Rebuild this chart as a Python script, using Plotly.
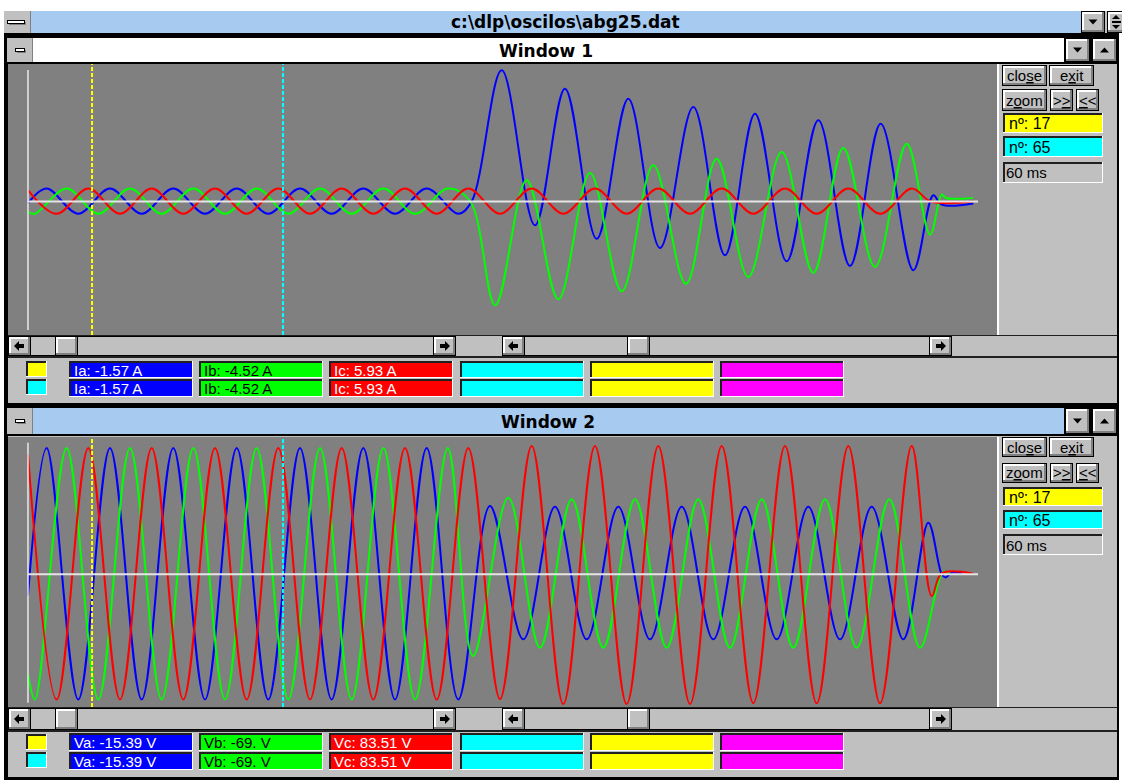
import plotly.graph_objects as go

# ------------------------------------------------------------------
# Data.
# x = sample number (nº); y = value at each turning point (peak/trough)
# plus the few crossings / flat parts of every trace.
# Window 1: phase currents (A)   Window 2: phase voltages (V)
# ------------------------------------------------------------------
ia_n = [0.90, 5.60, 13.55, 21.51, 29.48, 37.42, 45.39, 53.36, 61.30, 69.26, 77.20, 85.17, 93.14, 101.10, 109.05,
        112.41, 119.96, 128.32, 135.86, 143.83, 151.77, 159.74, 168.11, 176.07, 183.61, 191.58, 199.52, 207.49,
        215.20, 223.40, 228.42, 230.53, 238.48]
ia_v = [-0.9, 6.2, -5.9, 6.2, -5.9, 6.2, -5.9, 6.2, -5.9, 6.2, -5.9, 6.2, -5.9, 6.2, -5.9,
        0.0, 63.0, -11.4, 54.1, -17.9, 49.3, -22.3, 45.4, -25.8, 42.1, -28.7, 39.0, -31.0,
        37.3, -33.0, 3.0, -1.5, -1.0]

ib_n = [0.90, 2.66, 10.62, 18.58, 26.54, 34.50, 42.46, 50.42, 58.38, 66.34, 74.30, 82.26, 90.22, 98.18, 106.40,
        112.05, 118.33, 126.24, 134.18, 142.15, 150.11, 158.06, 166.27, 173.99, 181.93, 190.32, 198.27, 205.81,
        213.77, 221.74, 227.60, 230.53, 231.61, 238.40]
ib_v = [-4.9, -5.9, 6.2, -5.9, 6.2, -5.9, 6.2, -5.9, 6.2, -5.9, 6.2, -5.9, 6.2, -5.9, 6.2,
        0.0, -49.8, 10.2, -46.9, 13.7, -43.1, 17.4, -39.5, 20.5, -36.2, 23.8, -34.2, 25.7,
        -31.4, 27.7, -15.9, 3.3, 1.7, 1.7]

ic_n = [0.90, 8.12, 16.06, 24.03, 31.99, 39.93, 47.90, 55.87, 63.81, 71.78, 79.74, 87.68, 95.65, 103.62, 111.56,
        119.53, 127.49, 135.44, 143.40, 151.37, 159.31, 167.28, 175.24, 183.19, 191.15, 199.12, 207.06, 215.03,
        222.99, 227.82, 238.40]
ic_v = [5.5, -5.9, 6.2, -5.9, 6.2, -5.9, 6.2, -5.9, 6.2, -5.9, 6.2, -5.9, 6.2, -5.9, 6.2,
        -5.9, 6.2, -5.9, 6.2, -5.9, 6.2, -5.9, 6.2, -5.9, 6.2, -5.9, 6.2, -5.9,
        6.2, 0.0, 0.0]

va_n = [0.90, 5.60, 13.55, 21.51, 29.48, 37.42, 45.39, 53.36, 61.30, 69.26, 77.20, 85.17, 93.14, 101.10, 109.05,
        117.01, 125.38, 133.35, 141.32, 149.26, 157.23, 165.19, 173.13, 181.10, 189.07, 197.01, 204.98, 212.94,
        220.88, 227.17, 230.54, 231.50, 233.00, 235.60]
va_v = [-15.0, 89.5, -88.8, 89.5, -88.8, 89.5, -88.8, 89.5, -88.8, 89.5, -88.8, 89.5, -88.8, 89.5, -88.8,
        48.4, -46.1, 47.9, -46.1, 47.9, -46.1, 47.9, -46.1, 47.9, -46.1, 47.9, -46.1, 47.9,
        -46.1, 36.6, 0.0, -2.2, 1.0, 1.0]

vb_n = [0.90, 2.66, 10.62, 18.58, 26.54, 34.50, 42.46, 50.42, 58.38, 66.34, 74.30, 82.26, 90.22, 98.18, 106.40,
        112.74, 121.61, 129.58, 137.55, 145.49, 153.46, 161.42, 169.36, 177.33, 185.30, 193.24, 201.21, 209.17,
        217.37, 225.08, 230.86, 232.60]
vb_v = [-70.9, -88.8, 89.5, -88.8, 89.5, -88.8, 89.5, -88.8, 89.5, -88.8, 89.5, -88.8, 89.5, -88.8, 89.5,
        -57.9, 54.3, -52.0, 53.2, -52.0, 53.2, -52.0, 53.2, -52.0, 53.2, -52.0, 53.2, -52.0,
        53.2, -52.0, 1.6, 1.0]

vc_n = [0.90, 8.12, 16.06, 24.03, 31.99, 39.93, 47.90, 55.87, 63.81, 71.78, 79.74, 87.68, 95.65, 103.62, 111.56,
        119.53, 127.49, 135.44, 143.40, 151.37, 159.31, 167.28, 175.24, 183.19, 191.15, 199.12, 207.06, 215.03,
        222.99, 228.01, 230.53, 238.40]
vc_v = [85.3, -88.8, 89.5, -88.8, 89.5, -88.8, 89.5, -88.8, 89.5, -88.8, 89.5, -88.8, 89.5, -88.8, 89.5,
        -88.4, 91.0, -92.0, 91.0, -92.0, 91.0, -92.0, 91.0, -91.3, 91.0, -91.5, 91.0, -91.5,
        91.0, -15.4, 0.6, 0.4]

current_names = ["Ia", "Ib", "Ic"]
voltage_names = ["Va", "Vb", "Vc"]
current_readout = ["Ia: -1.57 A", "Ib: -4.52 A", "Ic: 5.93 A"]
voltage_readout = ["Va: -15.39 V", "Vb: -69. V", "Vc: 83.51 V"]
phase_colors = ["#0000FF", "#00FF00", "#FF0000"]
readout_text_colors = ["#FFFFFF", "#000000", "#FFFFFF"]
spare_box_colors = ["#00FFFF", "#FFFF00", "#FF00FF"]
cursor_samples = [17, 65]
cursor_colors = ["#FFFF00", "#00FFFF"]
cursor_delta = "60 ms"
file_title = "c:\\dlp\\oscilos\\abg25.dat"
window_titles = ["Window 1", "Window 2"]

x_range = [-4.12, 244.43]
i_range = [-64.08, 66.0]
v_range = [-94.08, 96.64]

# ------------------------------------------------------------------
W, H = 1122, 783
GRAY, DARK, BLACK, WHITE = "#C0C0C0", "#808080", "#000000", "#FFFFFF"
EDGE = "#202020"
TITLE_BLUE = "#A6CAF0"
UI_FONT = "Liberation Sans, Arial, sans-serif"
TITLE_FONT = "DejaVu Sans, Verdana, sans-serif"

shapes, annotations = [], []


def fx(x):
    return x / W


def fy(y):
    return 1 - y / H


def box(x0, y0, x1, y1, fill):
    shapes.append(dict(type="rect", xref="paper", yref="paper", layer="below",
                       x0=fx(x0), x1=fx(x1), y0=fy(y1), y1=fy(y0),
                       fillcolor=fill, line=dict(width=0)))


def poly(pts, fill):
    path = "M" + "L".join(f"{fx(x):.6f},{fy(y):.6f}" for x, y in pts) + "Z"
    shapes.append(dict(type="path", xref="paper", yref="paper", layer="below",
                       path=path, fillcolor=fill, line=dict(width=0)))


def raised(x0, y0, x1, y1):
    box(x0, y0, x1, y1, BLACK)
    box(x0 + 1, y0 + 1, x1 - 1, y1 - 1, DARK)
    box(x0 + 1, y0 + 1, x1 - 3, y1 - 3, WHITE)
    box(x0 + 3, y0 + 3, x1 - 3, y1 - 3, GRAY)


def sunken(x0, y0, x1, y1, fill):
    box(x0, y0, x1, y1, WHITE)
    box(x0, y0, x1 - 1, y1 - 1, EDGE)
    box(x0 + 2, y0 + 2, x1 - 1, y1 - 1, fill)


def label(x, y, s, size=15, color=BLACK, family=UI_FONT, anchor="left"):
    annotations.append(dict(xref="paper", yref="paper", x=fx(x), y=fy(y), text=s,
                            showarrow=False, xanchor=anchor, yanchor="middle",
                            font=dict(family=family, size=size, color=color)))


def tri(cx, cy, up, w=9, h=5):
    if up:
        poly([(cx - w / 2, cy + h / 2), (cx + w / 2, cy + h / 2), (cx, cy - h / 2)], BLACK)
    else:
        poly([(cx - w / 2, cy - h / 2), (cx + w / 2, cy - h / 2), (cx, cy + h / 2)], BLACK)


def arrow(cx, cy, left):
    s = -1 if left else 1
    poly([(cx + 5 * s, cy), (cx, cy - 5), (cx, cy + 5)], BLACK)
    box(min(cx, cx - 5 * s), cy - 2, max(cx, cx - 5 * s), cy + 2, BLACK)


def scrollbar(x0, x1, y0, y1, thumb):
    box(x0, y0, x1, y1, BLACK)
    box(x0 + 1, y0 + 1, x1 - 1, y1 - 1, GRAY)
    raised(x0, y0, x0 + 23, y1)
    arrow(x0 + 11, (y0 + y1) / 2, True)
    raised(x1 - 23, y0, x1, y1)
    arrow(x1 - 11, (y0 + y1) / 2, False)
    raised(thumb, y0, thumb + 23, y1)


def minimize_icon(x0, y0, x1, y1):
    box(x0 + 2, y0 + 2, x1 + 1, y1 + 1, DARK)
    box(x0, y0, x1, y1, BLACK)
    box(x0 + 1, y0 + 1, x1 - 1, y1 - 1, WHITE)


# ---- application title bar ----
box(4, 11, 30, 33, GRAY)
box(30, 11, 31, 33, DARK)
minimize_icon(7, 20, 25, 24)
box(31, 11, 1081, 33, TITLE_BLUE)
box(1081, 11, 1122, 33, GRAY)
raised(1081, 11, 1105, 33)
tri(1093, 22, False)
raised(1107, 11, 1126, 33)
tri(1116, 17, True, w=8, h=4)
box(1112, 21, 1121, 23, BLACK)
tri(1116, 27, False, w=8, h=4)
label(565, 22, f"<b>{file_title}</b>", size=17, family=TITLE_FONT, anchor="center")

# ---- frame ----
box(4, 33, 1119, 780, BLACK)

win_geo = [
    dict(title=(38, 62), fill=WHITE, tx=546, client=(64, 403), plot=(64, 335), scroll=(336, 356),
         rows=((361, 378), (379, 397)), squares=((361, 377), (379, 395)),
         btn1=(65, 86), btn2=(89, 111), ind=((113, 133), (136, 157), (162, 183))),
    dict(title=(408, 434), fill=TITLE_BLUE, tx=548, client=(436, 777), plot=(437, 707), scroll=(708, 730),
         rows=((733, 751), (752, 770)), squares=((734, 750), (752, 768)),
         btn1=(437, 457), btn2=(463, 483), ind=((487, 506), (510, 529), (534, 555))),
]
readouts = [current_readout, voltage_readout]
legend_x = [69, 199, 329, 460, 590, 720]

for k, g in enumerate(win_geo):
    t0, t1 = g["title"]
    tm = (t0 + t1) / 2
    box(7, t0, 32, t1, GRAY)
    box(32, t0, 33, t1, DARK)
    minimize_icon(15, tm - 2, 25, tm + 2)
    box(33, t0, 1064, t1, g["fill"])
    raised(1065, t0, 1090, t1)
    tri(1077.5, tm, False)
    raised(1092, t0, 1117, t1)
    tri(1104.5, tm, True)
    label(g["tx"], tm + 0.5, f"<b>{window_titles[k]}</b>", size=17, family=TITLE_FONT, anchor="center")

    c0, c1 = g["client"]
    box(8, c0, 1117, c1, GRAY)
    p0, p1 = g["plot"]
    box(8, p0, 997, p1, DARK)
    box(997, p0, 999, p1, WHITE)

    s0, s1 = g["scroll"]
    box(8, s0 - 1, 1117, s0, EDGE)
    box(8, s1, 1117, s1 + 2, EDGE)
    scrollbar(8, 456, s0, s1, 55)
    scrollbar(502, 952, s0, s1, 627)

    for r, ((r0, r1), (q0, q1)) in enumerate(zip(g["rows"], g["squares"])):
        sunken(26, q0, 47, q1, cursor_colors[r])
        for j, lx in enumerate(legend_x):
            if j < 3:
                sunken(lx, r0, lx + 124, r1, phase_colors[j])
                label(lx + 3, (r0 + r1) / 2 + 0.5, readouts[k][j], color=readout_text_colors[j])
            else:
                sunken(lx, r0, lx + 124, r1, spare_box_colors[j - 3])

    b0, b1 = g["btn1"]
    bm = (b0 + b1) / 2
    raised(1002, b0, 1047, b1)
    label(1024.5, bm, "clo<u>s</u>e", anchor="center")
    raised(1049, b0, 1094, b1)
    label(1071.5, bm, "e<u>x</u>it", anchor="center")
    b0, b1 = g["btn2"]
    bm = (b0 + b1) / 2
    raised(1002, b0, 1047, b1)
    label(1024.5, bm, "z<u>o</u>om", anchor="center")
    raised(1050, b0, 1073, b1)
    label(1061.5, bm, "&gt;<u>&gt;</u>", anchor="center")
    raised(1076, b0, 1099, b1)
    label(1087.5, bm, "<u>&lt;</u>&lt;", anchor="center")
    for i in range(2):
        i0, i1 = g["ind"][i]
        sunken(1003, i0, 1103, i1, cursor_colors[i])
        label(1007, (i0 + i1) / 2 + 0.5, f"nº: {cursor_samples[i]}", size=16)
    i0, i1 = g["ind"][2]
    sunken(1003, i0, 1103, i1, GRAY)
    label(1004, (i0 + i1) / 2 + 0.5, cursor_delta)

# ---- plot-area decorations in axis units ----
for xa, ya, rng, vtop, vbot in (("x", "y", i_range, 63.1, -61.7), ("x2", "y2", v_range, 93.3, -91.0)):
    for c, col in zip(cursor_samples, cursor_colors):
        shapes.append(dict(type="line", xref=xa, yref=ya, x0=c, x1=c, y0=rng[0], y1=rng[1],
                           line=dict(color=col, width=2, dash="4px,2px"), layer="above"))
    shapes.append(dict(type="line", xref=xa, yref=ya, x0=0.9, x1=0.9, y0=vbot, y1=vtop,
                       line=dict(color="#E8E8E8", width=1.5), layer="above"))
    shapes.append(dict(type="line", xref=xa, yref=ya, x0=0.9, x1=239.66, y0=0, y1=0,
                       line=dict(color="#E4E4E4", width=2), layer="above"))

# ---- traces ----
fig = go.Figure()
for (n, v), col, name in zip([(ia_n, ia_v), (ib_n, ib_v), (ic_n, ic_v)], phase_colors, current_names):
    fig.add_trace(go.Scatter(x=n, y=v, mode="lines", name=name, xaxis="x", yaxis="y",
                             line=dict(color=col, width=2, shape="spline", smoothing=1.0),
                             hoverinfo="skip"))
for (n, v), col, name in zip([(va_n, va_v), (vb_n, vb_v), (vc_n, vc_v)], phase_colors, voltage_names):
    fig.add_trace(go.Scatter(x=n, y=v, mode="lines", name=name, xaxis="x2", yaxis="y2",
                             line=dict(color=col, width=2, shape="spline", smoothing=1.0),
                             hoverinfo="skip"))

ax = dict(visible=False, fixedrange=True, showgrid=False, zeroline=False)
fig.update_layout(
    width=W, height=H, autosize=False,
    margin=dict(l=0, r=0, t=0, b=0, pad=0),
    paper_bgcolor=WHITE, plot_bgcolor="rgba(0,0,0,0)",
    showlegend=False,
    xaxis=dict(domain=[fx(8), fx(997)], range=x_range, anchor="y", **ax),
    yaxis=dict(domain=[fy(335), fy(64)], range=i_range, anchor="x", **ax),
    xaxis2=dict(domain=[fx(8), fx(997)], range=x_range, anchor="y2", **ax),
    yaxis2=dict(domain=[fy(707), fy(438)], range=v_range, anchor="x2", **ax),
    shapes=shapes,
    annotations=annotations,
)

fig.write_html("out.html", config={"displayModeBar": False},
               post_script="document.body.style.margin='0px';document.body.style.overflow='hidden';")
